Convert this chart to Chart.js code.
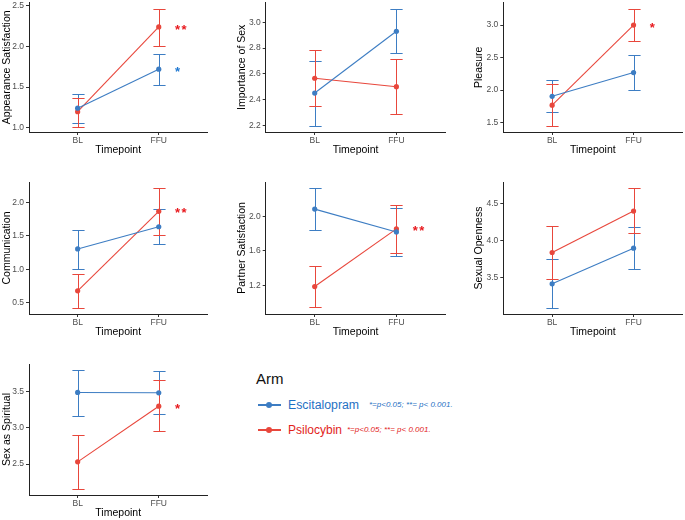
<!DOCTYPE html>
<html><head><meta charset="utf-8">
<script src="https://cdn.jsdelivr.net/npm/chart.js@4"></script>
<style>
html,body{margin:0;padding:0;background:#fff}
body{width:685px;height:520px;position:relative;overflow:hidden;font-family:"Liberation Sans",Arial,sans-serif}
canvas{position:absolute}
.t{position:absolute;white-space:nowrap;line-height:1}
</style></head><body>
<div class="t" style="left:256px;top:371px;font-size:15px;color:#111">Arm</div>
<div style="position:absolute;left:258px;top:404px;width:23px;height:1.5px;background:#3d7dc3"></div>
<div style="position:absolute;left:266px;top:402px;width:6px;height:6px;border-radius:3px;background:#3d7dc3"></div>
<div class="t" style="left:288px;top:398.5px;font-size:12.3px;color:#1f71c4">Escitalopram</div>
<div class="t" style="left:369px;top:401px;font-size:8px;font-style:italic;color:#1f71c4">*=p&lt;0.05; **= p&lt; 0.001.</div>
<div style="position:absolute;left:258px;top:429px;width:23px;height:1.5px;background:#e8473c"></div>
<div style="position:absolute;left:266px;top:427px;width:6px;height:6px;border-radius:3px;background:#e8473c"></div>
<div class="t" style="left:288px;top:423.5px;font-size:12px;color:#e2231b">Psilocybin</div>
<div class="t" style="left:347px;top:426px;font-size:8px;font-style:italic;color:#e2231b">*=p&lt;0.05; **= p&lt; 0.001.</div>
<script>
// ---- data ----
const timepoints = ['BL', 'FFU'];
const arms = ['Escitalopram', 'Psilocybin'];
const measures = ['Appearance Satisfaction', 'Importance of Sex', 'Pleasure', 'Communication', 'Partner Satisfaction', 'Sexual Openness', 'Sex as Spiritual'];
const escMean = [[1.24, 1.72], [2.45, 2.93], [1.905, 2.27], [1.305, 1.635], [2.085, 1.82], [3.41, 3.895], [3.49, 3.485]];
const escLow  = [[1.055, 1.52], [2.19, 2.76], [1.657, 1.995], [1.01, 1.371], [1.844, 1.535], [3.087, 3.61], [3.17, 3.19]];
const escHigh = [[1.419, 1.911], [2.70, 3.104], [2.151, 2.541], [1.59, 1.90], [2.33, 2.10], [3.75, 4.18], [3.80, 3.786]];
const psiMean = [[1.198, 2.238], [2.565, 2.499], [1.769, 3.0], [0.68, 1.865], [1.185, 1.855], [3.836, 4.40], [2.53, 3.30]];
const psiLow  = [[1.012, 2.007], [2.347, 2.286], [1.446, 2.76], [0.425, 1.515], [0.944, 1.58], [3.47, 4.095], [2.154, 2.95]];
const psiHigh = [[1.371, 2.459], [2.785, 2.714], [2.097, 3.25], [0.936, 2.21], [1.425, 2.135], [4.20, 4.71], [2.90, 3.66]];
const yTicks = [[1.0, 1.5, 2.0, 2.5], [2.2, 2.4, 2.6, 2.8, 3.0], [1.5, 2.0, 2.5, 3.0], [0.5, 1.0, 1.5, 2.0], [1.2, 1.6, 2.0], [3.5, 4.0, 4.5], [2.5, 3.0, 3.5]];
const yMin = [0.948, 2.147, 1.356, 0.335, 0.866, 3.0, 2.072];
const yMax = [2.537, 3.153, 3.345, 2.302, 2.40, 4.795, 3.883];
// significance marks: panel, arm index, text, y value
const sigPanel = [0, 0, 2, 3, 4, 6];
const sigArm   = [1, 0, 1, 1, 1, 1];
const sigText  = ['**', '*', '*', '**', '**', '*'];
const sigY     = [2.238, 1.718, 3.0, 1.889, 1.86, 3.30];

// ---- style ----
const armColors = ['#3d7dc3', '#e8473c'];
const sigColors = ['#1f78d1', '#e8191e'];
Chart.defaults.font.family = '"Liberation Sans", Arial, sans-serif';

const colL = [29, 265.7, 503.3], colR = [209, 446.7, 684], colCanvas = [0, 235, 472];
const rowT = [0, 182, 364], rowB = [132, 314, 495], rowCanvas = [0, 172, 354];
const xHeight = 24.5, padB = 3;

const errPlugin = {
  id: 'errbars',
  beforeDatasetsDraw(chart) {
    const i = chart.options.plugins.errbars.idx;
    const xs = chart.scales.x, ys = chart.scales.y, ctx = chart.ctx;
    const sets = [[escLow, escHigh], [psiLow, psiHigh]];
    sets.forEach(([lo, hi], a) => {
      ctx.save();
      ctx.strokeStyle = armColors[a];
      ctx.lineWidth = 1;
      timepoints.forEach((t, j) => {
        const xv = xs.getPixelForValue(j + 1);
        const x = Math.round(xv) + 0.5;
        const cw = xs.getPixelForValue(j + 1 + 0.075) - xv;
        const y1 = Math.round(ys.getPixelForValue(lo[i][j])) + 0.5;
        const y2 = Math.round(ys.getPixelForValue(hi[i][j])) + 0.5;
        ctx.beginPath();
        ctx.moveTo(x, y1); ctx.lineTo(x, y2);
        ctx.moveTo(x - cw, y1); ctx.lineTo(x + cw, y1);
        ctx.moveTo(x - cw, y2); ctx.lineTo(x + cw, y2);
        ctx.stroke();
      });
      ctx.restore();
    });
  },
  afterDatasetsDraw(chart) {
    const i = chart.options.plugins.errbars.idx;
    const xs = chart.scales.x, ys = chart.scales.y, ctx = chart.ctx;
    sigPanel.forEach((p, k) => {
      if (p !== i) return;
      ctx.save();
      ctx.fillStyle = sigColors[sigArm[k]];
      ctx.font = 'bold 13px "Liberation Sans", Arial, sans-serif';
      ctx.textAlign = 'left';
      ctx.textBaseline = 'alphabetic';
      const x = xs.getPixelForValue(2.20);
      const y = ys.getPixelForValue(sigY[k]) + 7;
      let cx = x;
      for (const ch of sigText[k]) { ctx.fillText(ch, cx, y); cx += 6.5; }
      ctx.restore();
    });
  }
};

measures.forEach((m, i) => {
  const col = i % 3, row = Math.floor(i / 3);
  const cl = colCanvas[col], ct = rowCanvas[row];
  const padLeft = 1, padTop = rowT[row] - ct, padRight = 1;
  const w = Math.ceil(colR[col] + padRight - cl);
  const h = Math.ceil(rowB[row] + xHeight + padB - ct);
  const yWidth = colL[col] - cl - padLeft;
  const cv = document.createElement('canvas');
  cv.width = w; cv.height = h;
  cv.style.left = cl + 'px'; cv.style.top = ct + 'px';
  cv.style.width = w + 'px'; cv.style.height = h + 'px';
  document.body.appendChild(cv);
  const realRight = w - (colR[col] - cl);
  const realBottom = h - (rowB[row] - ct) - xHeight;
  new Chart(cv, {
    type: 'line',
    data: {
      datasets: arms.map((a, k) => ({
        label: a,
        data: timepoints.map((t, j) => ({ x: j + 1, y: (k === 0 ? escMean : psiMean)[i][j] })),
        borderColor: armColors[k],
        backgroundColor: armColors[k],
        borderWidth: 1.1,
        pointRadius: 2.6,
        pointHoverRadius: 2.6,
        pointBorderWidth: 0,
        pointBackgroundColor: armColors[k],
        tension: 0
      }))
    },
    options: {
      responsive: false,
      animation: false,
      devicePixelRatio: 1,
      events: [],
      layout: { padding: { left: padLeft, top: padTop, right: realRight, bottom: realBottom } },
      plugins: { legend: { display: false }, tooltip: { enabled: false }, errbars: { idx: i } },
      scales: {
        x: {
          type: 'linear', min: 0.4, max: 2.6,
          afterBuildTicks: s => { s.ticks = timepoints.map((t, j) => ({ value: j + 1 })); },
          afterFit: s => { s.height = xHeight; s.paddingLeft = 0; s.paddingRight = 0; },
          ticks: { callback: v => timepoints[v - 1], color: '#4d4d4d', font: { size: 8.5 }, padding: 1, maxRotation: 0, autoSkip: false },
          grid: { display: true, drawOnChartArea: false, drawTicks: true, tickLength: 3, color: '#333', lineWidth: 1 },
          border: { display: true, color: '#222', width: 1 },
          title: { display: true, text: 'Timepoint', color: '#000', font: { size: 10.5 }, padding: 0 }
        },
        y: {
          type: 'linear', min: yMin[i], max: yMax[i],
          afterBuildTicks: s => { s.ticks = yTicks[i].map(v => ({ value: v })); },
          afterFit: s => { s.width = yWidth; s.paddingTop = 0; s.paddingBottom = 0; },
          ticks: { callback: v => v.toFixed(1), color: '#4d4d4d', font: { size: 8.5 }, padding: 2, autoSkip: false },
          grid: { display: true, drawOnChartArea: false, drawTicks: true, tickLength: 3, color: '#333', lineWidth: 1 },
          border: { display: true, color: '#222', width: 1 },
          title: { display: true, text: m, color: '#000', font: { size: 10.5 }, padding: 0 }
        }
      }
    },
    plugins: [errPlugin]
  });
});
</script>
</body></html>
